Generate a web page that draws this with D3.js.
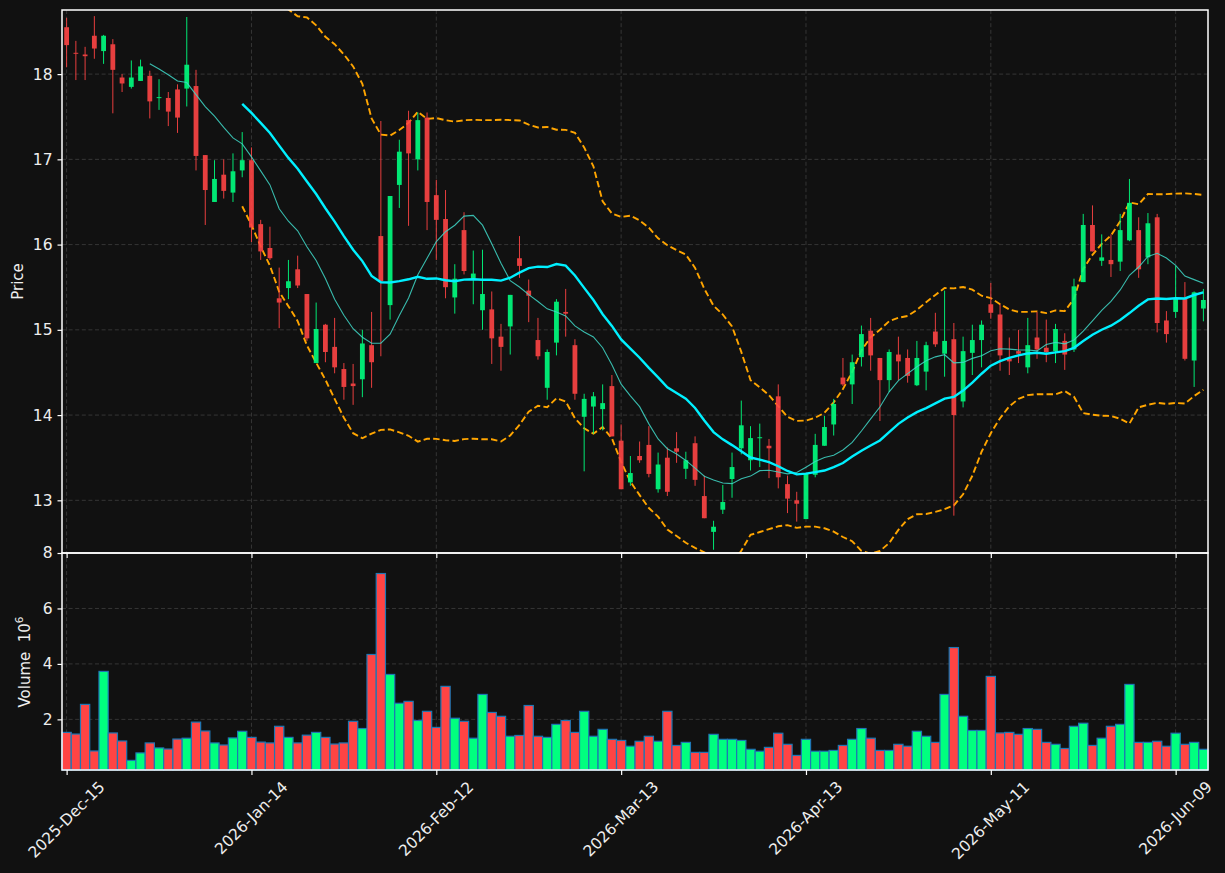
<!DOCTYPE html>
<html lang="en">
<head>
<meta charset="UTF-8">
<title>Candles</title>
<script src="https://d3js.org/d3.v7.min.js"></script>
<style>
  body { margin: 0; background: #111111; }
  text { font-family: "DejaVu Sans", sans-serif; }
</style>
</head>
<body>
<div id="chart"></div>
<script>
// daily bars, price in $, volume in millions
var open = [18.55,18.25,18.23,18.45,18.27,18.35,17.96,17.85,17.92,17.98,17.72,17.72,17.82,17.83,17.86,17.05,16.50,16.82,16.61,16.87,
  16.99,16.24,15.96,15.37,15.49,15.71,15.42,14.61,15.06,14.80,14.54,14.37,14.42,14.82,16.10,15.29,16.70,17.46,17.00,17.49,
  16.58,16.30,15.38,16.17,15.60,15.23,15.24,14.92,15.04,15.84,15.46,14.88,14.32,14.85,15.21,14.82,13.98,14.10,14.07,14.34,
  13.70,13.21,13.52,13.65,13.13,13.50,13.61,13.37,13.67,13.05,12.63,12.89,13.25,13.61,13.47,13.73,13.64,14.22,13.19,13.00,
  12.78,13.30,13.64,13.89,14.44,14.36,14.68,14.99,14.67,14.41,14.71,14.67,14.35,14.51,14.98,14.72,14.89,14.16,14.73,14.88,
  15.30,15.18,14.66,14.75,14.56,14.91,14.79,14.75,14.87,14.77,15.56,16.23,15.81,15.82,15.80,16.05,16.17,15.85,16.32,15.11,
  15.21,15.37,14.64,15.25];
var high = [18.66,18.39,18.32,18.68,18.46,18.41,18.00,18.16,18.17,18.04,17.94,17.79,17.88,18.67,18.05,17.05,16.99,17.00,17.07,17.32,
  17.14,16.29,16.21,15.73,15.82,15.87,15.42,15.32,15.07,15.14,14.61,14.60,15.00,15.21,17.45,16.57,17.23,17.57,17.55,17.55,
  16.76,16.64,15.77,16.38,15.93,15.94,15.45,15.07,15.41,16.10,15.59,15.14,14.77,15.36,15.48,14.89,14.25,14.27,14.36,14.47,
  13.89,13.52,13.69,13.87,13.56,13.62,13.80,13.57,13.75,13.29,12.76,13.18,13.56,14.17,13.87,13.90,13.72,14.36,13.29,13.10,
  13.32,13.78,13.99,14.19,14.67,14.71,15.05,15.14,14.67,14.77,14.92,14.77,14.87,14.86,15.20,15.46,15.08,14.92,15.06,15.11,
  15.55,15.30,14.91,15.00,15.14,15.21,15.12,15.07,14.96,15.60,16.36,16.46,16.12,16.12,16.36,16.77,16.32,16.37,16.36,15.22,
  15.75,15.56,15.45,15.48];
var low = [18.08,17.93,17.93,18.18,18.12,17.54,17.79,17.83,17.92,17.48,17.58,17.39,17.31,17.62,16.87,16.23,16.50,16.54,16.50,16.79,
  16.03,15.82,15.82,15.02,15.36,15.49,14.87,14.61,14.62,14.49,14.18,14.12,14.21,14.32,14.69,15.12,16.43,16.22,16.87,16.17,
  15.82,15.37,15.19,15.65,15.30,15.00,14.60,14.52,14.71,15.61,15.09,14.65,14.18,14.70,14.92,14.18,13.34,13.78,13.82,13.75,
  13.13,13.17,13.44,13.27,13.09,13.05,13.44,13.25,13.17,12.79,12.42,12.84,13.03,13.54,13.35,13.39,13.26,13.14,12.85,12.75,
  12.78,13.27,13.64,13.76,14.34,14.13,14.57,14.52,13.93,14.27,14.41,14.38,14.34,14.29,14.80,14.45,12.82,14.09,14.47,14.56,
  15.13,14.52,14.47,14.61,14.49,14.66,14.62,14.61,14.53,14.74,15.56,15.92,15.75,15.62,15.69,16.04,15.61,15.77,14.97,14.85,
  15.14,14.64,14.33,15.10];
var close = [18.34,18.24,18.21,18.30,18.45,18.05,17.89,17.96,18.09,17.68,17.73,17.56,17.49,18.11,17.04,16.64,16.77,16.63,16.86,16.99,
  16.20,15.92,15.84,15.32,15.57,15.52,14.90,15.01,14.74,14.56,14.33,14.34,14.84,14.62,15.57,16.57,17.09,17.07,17.46,16.50,
  16.29,15.50,15.60,15.69,15.66,15.42,14.90,14.80,15.41,15.75,15.40,14.69,14.74,15.33,15.19,14.25,14.19,14.22,14.14,13.75,
  13.13,13.32,13.47,13.31,13.42,13.10,13.57,13.47,13.24,12.79,12.69,12.98,13.39,13.88,13.73,13.74,13.61,13.27,13.02,12.96,
  13.31,13.65,13.86,14.13,14.36,14.62,14.95,14.70,14.41,14.74,14.63,14.46,14.67,14.82,14.83,14.87,14.00,14.75,14.88,15.06,
  15.20,14.70,14.63,14.72,14.82,14.77,14.74,15.01,14.71,15.51,16.23,15.92,15.85,15.77,16.17,16.49,15.71,16.25,15.08,14.95,
  15.37,14.66,15.44,15.35];
var volume = [1.53,1.47,2.54,0.86,3.73,1.51,1.22,0.52,0.79,1.15,0.97,0.93,1.29,1.32,1.90,1.58,1.15,1.075,1.33,1.57,
  1.35,1.18,1.15,1.75,1.35,1.15,1.43,1.53,1.35,1.11,1.15,1.93,1.67,4.34,7.26,3.62,2.58,2.65,1.96,2.29,
  1.71,3.19,2.04,1.93,1.32,2.90,2.25,2.11,1.39,1.42,2.50,1.39,1.35,1.82,1.96,1.53,2.29,1.39,1.64,1.28,
  1.24,1.03,1.21,1.39,1.21,2.29,1.06,1.17,0.81,0.81,1.46,1.28,1.28,1.24,0.92,0.85,0.99,1.50,1.10,0.70,
  1.28,0.85,0.85,0.88,1.06,1.28,1.67,1.32,0.88,0.88,1.10,1.03,1.57,1.39,1.17,2.90,4.59,2.11,1.60,1.60,
  3.55,1.51,1.53,1.46,1.67,1.64,1.17,1.10,0.95,1.75,1.86,1.06,1.32,1.75,1.82,3.26,1.17,1.17,1.21,1.03,
  1.50,1.10,1.17,0.92];

var tickIdx = [0, 20, 40, 60, 80, 100, 120];
var tickLabels = ["2025-Dec-15","2026-Jan-14","2026-Feb-12","2026-Mar-13","2026-Apr-13","2026-May-11","2026-Jun-09"];
var priceTicks = [13, 14, 15, 16, 17, 18];
var volTicks = [2, 4, 6, 8];

var W = 1225, H = 873;
var left = 62, right = 1208, pTop = 10, pBot = 553, vBot = 770;
var upCol = "#00ff7f", downCol = "#ff4444";

var n = close.length;
var bars = d3.range(n).map(function(i) {
  return {i: i, o: open[i], h: high[i], l: low[i], c: close[i], v: volume[i]};
});

// rolling means / bands from the closes
function sma(k) {
  return bars.map(function(d, i) {
    if (i < k - 1) return null;
    return d3.mean(close.slice(i - k + 1, i + 1));
  });
}
var ma10 = sma(10), ma20 = sma(20);
var bandUp = [], bandDn = [];
bars.forEach(function(d, i) {
  if (i < 19) { bandUp.push(null); bandDn.push(null); return; }
  var win = close.slice(i - 19, i + 1), m = ma20[i];
  var sd = Math.sqrt(d3.mean(win, function(v) { return (v - m) * (v - m); }));
  bandUp.push(m + 2 * sd); bandDn.push(m - 2 * sd);
});

var x = d3.scaleLinear().domain([-0.5, n - 0.5]).range([left, right]);
var yP = d3.scaleLinear().domain([12.382, 18.752]).range([pBot, pTop]);
var yV = d3.scaleLinear().domain([0.174, 8.0]).range([vBot, pBot]);
var bw = x(1) - x(0);

var svg = d3.select("#chart").append("svg")
  .attr("width", W).attr("height", H)
  .style("background", "#111111");

svg.append("defs").append("clipPath").attr("id", "clipP")
  .append("rect").attr("x", left).attr("y", pTop)
  .attr("width", right - left).attr("height", pBot - pTop);

// grid
var grid = svg.append("g").attr("stroke", "#3a3a3a").attr("stroke-width", 0.9)
  .attr("stroke-dasharray", "4,2.6");
tickIdx.forEach(function(t) {
  grid.append("line").attr("x1", x(t)).attr("x2", x(t)).attr("y1", pTop).attr("y2", vBot);
});
priceTicks.forEach(function(t) {
  grid.append("line").attr("x1", left).attr("x2", right).attr("y1", yP(t)).attr("y2", yP(t));
});
volTicks.forEach(function(t) {
  if (t === 8) return;
  grid.append("line").attr("x1", left).attr("x2", right).attr("y1", yV(t)).attr("y2", yV(t));
});

// volume
svg.append("g").selectAll("rect").data(bars).enter().append("rect")
  .attr("x", function(d) { return x(d.i) - bw / 2; })
  .attr("width", bw)
  .attr("y", function(d) { return yV(d.v); })
  .attr("height", function(d) { return vBot - yV(d.v); })
  .attr("fill", function(d) { return d.c >= d.o ? upCol : downCol; })
  .attr("stroke", "#1f77b4").attr("stroke-width", 1.2);

// price panel
var pg = svg.append("g").attr("clip-path", "url(#clipP)");

var line = function(arr) {
  return d3.line()
    .defined(function(d, i) { return arr[i] != null; })
    .x(function(d, i) { return x(i); })
    .y(function(d, i) { return yP(arr[i]); })(arr);
};

pg.append("path").attr("d", line(bandUp)).attr("fill", "none")
  .attr("stroke", "#ffa500").attr("stroke-width", 1.9).attr("stroke-dasharray", "6.5,3.2");
pg.append("path").attr("d", line(bandDn)).attr("fill", "none")
  .attr("stroke", "#ffa500").attr("stroke-width", 1.9).attr("stroke-dasharray", "6.5,3.2");

var candles = pg.append("g").selectAll("g").data(bars).enter().append("g")
  .attr("opacity", 0.9)
  .attr("fill", function(d) { return d.c >= d.o ? upCol : downCol; })
  .attr("stroke", function(d) { return d.c >= d.o ? upCol : downCol; });
candles.append("line")
  .attr("x1", function(d) { return x(d.i); }).attr("x2", function(d) { return x(d.i); })
  .attr("y1", function(d) { return yP(d.h); }).attr("y2", function(d) { return yP(d.l); })
  .attr("stroke-width", 1);
candles.append("rect")
  .attr("x", function(d) { return x(d.i) - bw * 0.26; })
  .attr("width", bw * 0.52)
  .attr("y", function(d) { return yP(Math.max(d.o, d.c)); })
  .attr("height", function(d) { return Math.max(1, Math.abs(yP(d.o) - yP(d.c))); })
  .attr("stroke", "none");

pg.append("path").attr("d", line(ma10)).attr("fill", "none")
  .attr("stroke", "#40d8c8").attr("stroke-width", 1.1).attr("opacity", 0.85);
pg.append("path").attr("d", line(ma20)).attr("fill", "none")
  .attr("stroke", "#00f0ff").attr("stroke-width", 2.4);

// axes
function styleAxis(g) {
  g.select(".domain").remove();
  g.selectAll("line").attr("stroke", "#ffffff").attr("stroke-width", 1.2);
  g.selectAll("text").attr("fill", "#eeeeee").style("font-size", "15.5px")
    .style("font-family", "DejaVu Sans, sans-serif");
}
svg.append("g").attr("transform", "translate(" + left + ",0)")
  .call(d3.axisLeft(yP).tickValues(priceTicks).tickFormat(d3.format("d")).tickSize(4.5).tickPadding(5))
  .call(styleAxis);
svg.append("g").attr("transform", "translate(" + left + ",0)")
  .call(d3.axisLeft(yV).tickValues(volTicks).tickFormat(d3.format("d")).tickSize(4.5).tickPadding(5))
  .call(styleAxis);
svg.append("g").attr("transform", "translate(0," + vBot + ")")
  .call(d3.axisBottom(x).tickValues(tickIdx).tickFormat("").tickSize(5))
  .call(styleAxis);
svg.append("g").attr("transform", "translate(0," + pBot + ")")
  .call(d3.axisBottom(x).tickValues(tickIdx).tickFormat("").tickSize(5))
  .call(styleAxis);

// rotated date labels, bbox centred under the tick
tickIdx.forEach(function(t, k) {
  var tx = svg.append("text").text(tickLabels[k])
    .attr("fill", "#eeeeee").style("font-size", "15.5px")
    .attr("text-anchor", "middle").attr("dominant-baseline", "central");
  var bb = tx.node().getBBox();
  var side = (bb.width + bb.height) * Math.SQRT1_2;
  var cx = x(t), cy = vBot + 8 + side / 2;
  tx.attr("x", cx).attr("y", cy).attr("transform", "rotate(-45," + cx + "," + cy + ")");
});

// frames
var frame = svg.append("g").attr("fill", "none").attr("stroke", "#ffffff").attr("stroke-width", 1.5);
frame.append("rect").attr("x", left).attr("y", pTop).attr("width", right - left).attr("height", pBot - pTop);
frame.append("rect").attr("x", left).attr("y", pBot).attr("width", right - left).attr("height", vBot - pBot);

// axis titles
svg.append("text").text("Price").attr("fill", "#eeeeee").style("font-size", "15px")
  .attr("text-anchor", "middle")
  .attr("transform", "translate(23," + ((pTop + pBot) / 2) + ") rotate(-90)");
var vt = svg.append("text").attr("fill", "#eeeeee").style("font-size", "15px")
  .style("white-space", "pre")
  .attr("text-anchor", "middle")
  .attr("transform", "translate(30,662) rotate(-90)");
vt.append("tspan").text("Volume  10");
vt.append("tspan").text("6").style("font-size", "10.5px").attr("dy", -7);
</script>
</body>
</html>
